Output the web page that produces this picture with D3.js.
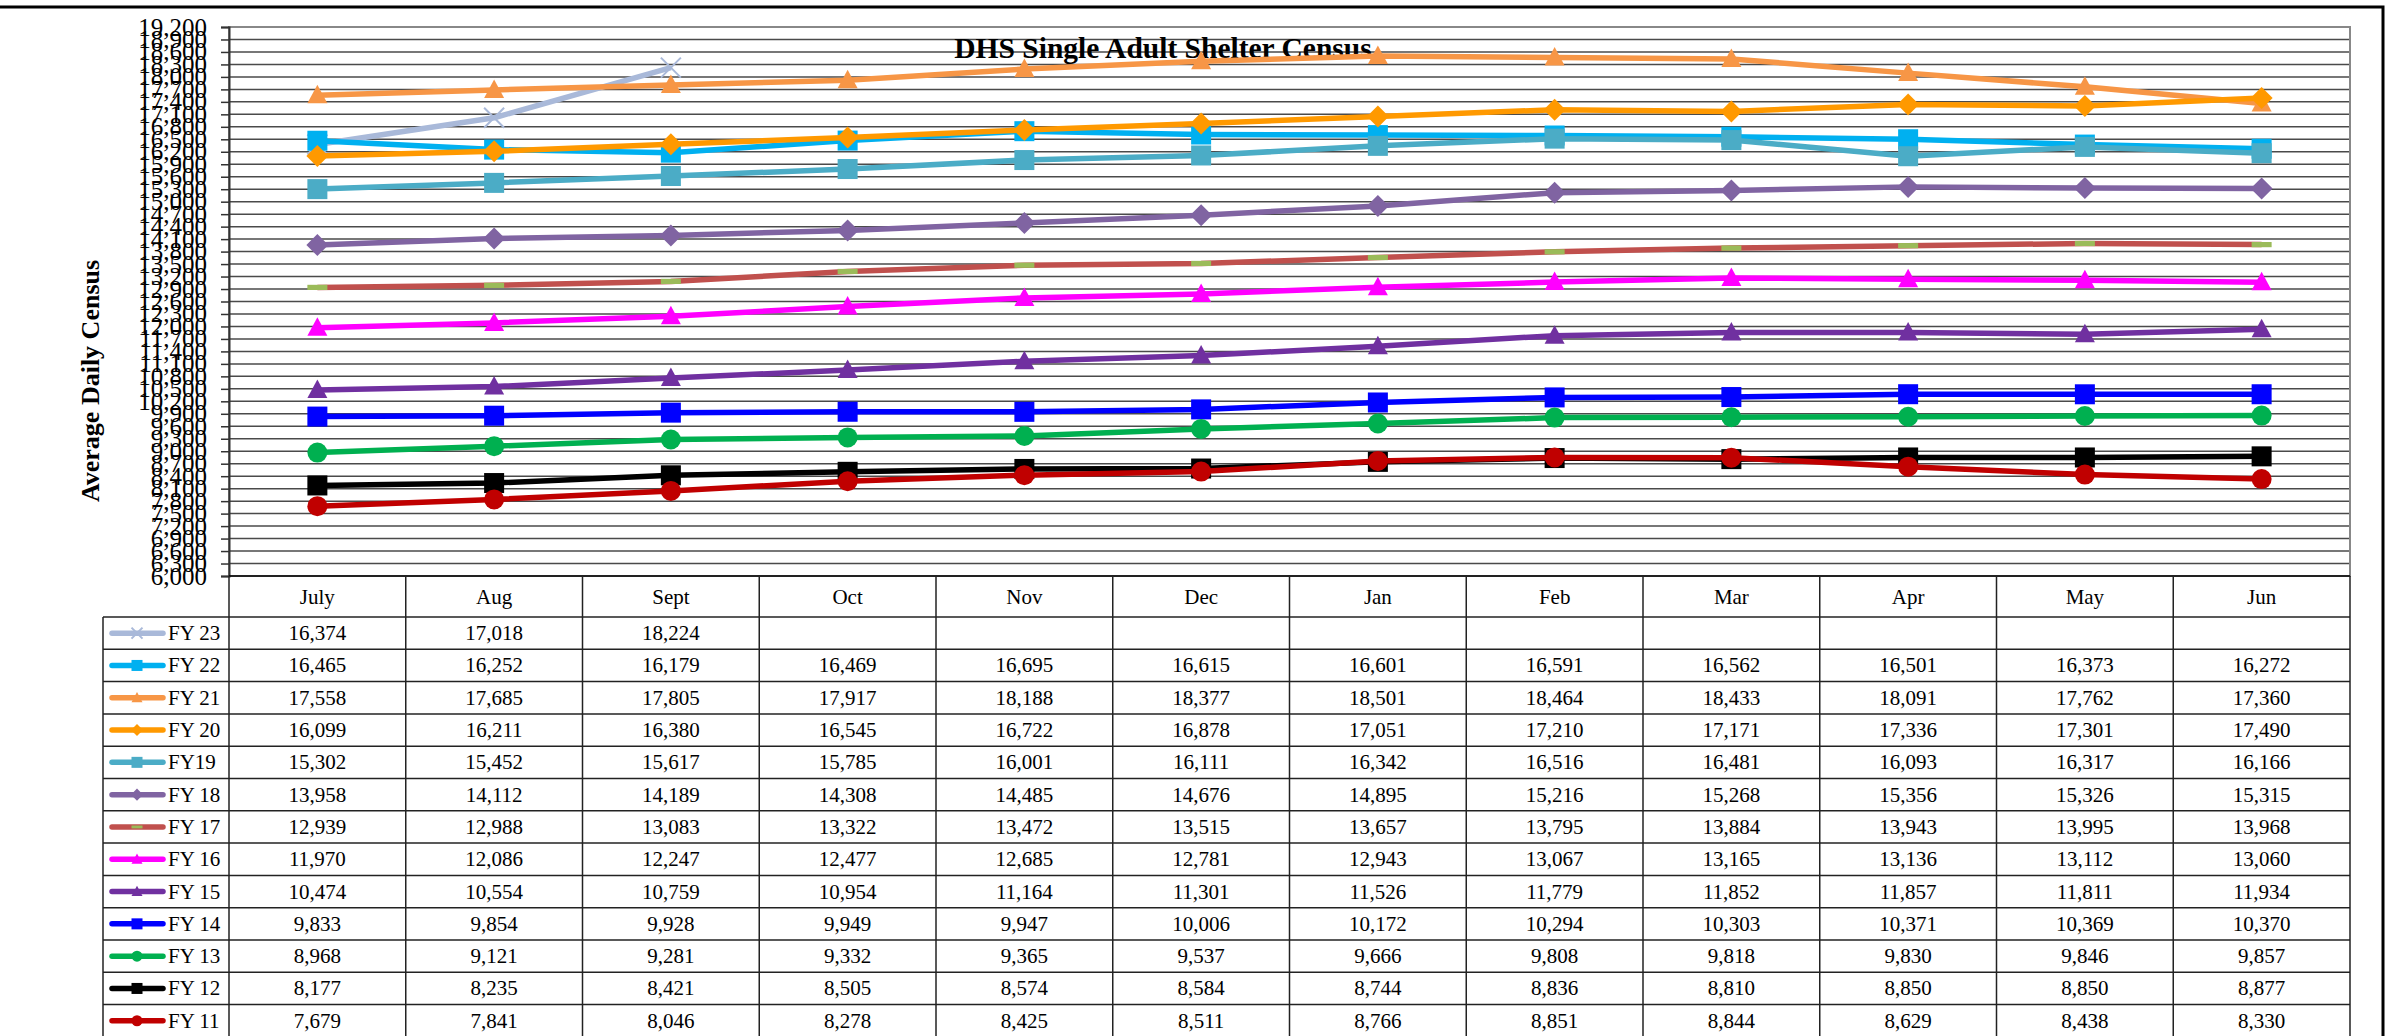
<!DOCTYPE html>
<html>
<head>
<meta charset="utf-8">
<script src="https://cdn.jsdelivr.net/npm/d3@7"></script>
<style>
  body { margin: 0; background: #fff; }
  text { font-family: "Liberation Serif", "Times New Roman", serif; }
</style>
</head>
<body>
<svg id="chart" width="2401" height="1036"></svg>
<script>
const months = ["July", "Aug", "Sept", "Oct", "Nov", "Dec", "Jan", "Feb", "Mar", "Apr", "May", "Jun"];
const seriesNames = ["FY 23", "FY 22", "FY 21", "FY 20", "FY19", "FY 18", "FY 17", "FY 16", "FY 15", "FY 14", "FY 13", "FY 12", "FY 11"];

const fy23 = [16374, 17018, 18224];
const fy22 = [16465, 16252, 16179, 16469, 16695, 16615, 16601, 16591, 16562, 16501, 16373, 16272];
const fy21 = [17558, 17685, 17805, 17917, 18188, 18377, 18501, 18464, 18433, 18091, 17762, 17360];
const fy20 = [16099, 16211, 16380, 16545, 16722, 16878, 17051, 17210, 17171, 17336, 17301, 17490];
const fy19 = [15302, 15452, 15617, 15785, 16001, 16111, 16342, 16516, 16481, 16093, 16317, 16166];
const fy18 = [13958, 14112, 14189, 14308, 14485, 14676, 14895, 15216, 15268, 15356, 15326, 15315];
const fy17 = [12939, 12988, 13083, 13322, 13472, 13515, 13657, 13795, 13884, 13943, 13995, 13968];
const fy16 = [11970, 12086, 12247, 12477, 12685, 12781, 12943, 13067, 13165, 13136, 13112, 13060];
const fy15 = [10474, 10554, 10759, 10954, 11164, 11301, 11526, 11779, 11852, 11857, 11811, 11934];
const fy14 = [9833, 9854, 9928, 9949, 9947, 10006, 10172, 10294, 10303, 10371, 10369, 10370];
const fy13 = [8968, 9121, 9281, 9332, 9365, 9537, 9666, 9808, 9818, 9830, 9846, 9857];
const fy12 = [8177, 8235, 8421, 8505, 8574, 8584, 8744, 8836, 8810, 8850, 8850, 8877];
const fy11 = [7679, 7841, 8046, 8278, 8425, 8511, 8766, 8851, 8844, 8629, 8438, 8330];

const yTicks = d3.range(6000, 19201, 300);

// styles (same order as seriesNames)
const lineColors = ["#A9B9D9", "#00B0F0", "#F79646", "#FF9900", "#4BACC6", "#8064A2", "#C0504D", "#FF00FF", "#7030A0", "#0000FF", "#00B050", "#000000", "#C00000"];
const markerTypes = ["x", "square", "triangle", "diamond", "square", "diamond", "dash", "triangle", "triangle", "square", "circle", "square", "circle"];

const allValues = [fy23, fy22, fy21, fy20, fy19, fy18, fy17, fy16, fy15, fy14, fy13, fy12, fy11];
const series = seriesNames.map((n, i) => ({ name: n, values: allValues[i], color: lineColors[i], marker: markerTypes[i] }));

const svg = d3.select("#chart");

const plotL = 229, plotR = 2350, plotT = 27, plotB = 576;
const x = d3.scaleBand().domain(months).range([plotL, plotR]);
const y = d3.scaleLinear().domain([6000, 19200]).range([plotB, plotT]);
const cx = m => x(m) + x.bandwidth() / 2;

// outer frame
svg.append("rect")
  .attr("x", -10).attr("y", 7)
  .attr("width", 2393).attr("height", 1060)
  .attr("fill", "none").attr("stroke", "#000").attr("stroke-width", 3);

// gridlines
svg.append("g")
  .selectAll("line")
  .data(yTicks)
  .enter().append("line")
  .attr("x1", plotL).attr("x2", plotR)
  .attr("y1", d => y(d)).attr("y2", d => y(d))
  .attr("stroke", "#4a4a4a").attr("stroke-width", 1.5);

// plot border
svg.append("rect")
  .attr("x", plotL).attr("y", plotT)
  .attr("width", plotR - plotL).attr("height", plotB - plotT)
  .attr("fill", "none").attr("stroke", "#888").attr("stroke-width", 2);

// y axis
const yAxis = svg.append("g")
  .attr("transform", `translate(${plotL},0)`)
  .call(d3.axisLeft(y).tickValues(yTicks).tickSize(8).tickPadding(14).tickFormat(d3.format(",")));
yAxis.select(".domain").attr("stroke", "#333").attr("stroke-width", 2);
yAxis.selectAll(".tick line").attr("stroke", "#333").attr("stroke-width", 1.5);
yAxis.selectAll(".tick text")
  .attr("font-size", 25)
  .attr("fill", "#000")
  .style("font-family", "'Liberation Serif', serif");

// y axis title
svg.append("text")
  .attr("transform", "translate(99,381) rotate(-90)")
  .attr("text-anchor", "middle")
  .attr("font-size", 26)
  .attr("font-weight", "bold")
  .text("Average Daily Census");

// title
svg.append("text")
  .attr("x", 1163).attr("y", 58)
  .attr("text-anchor", "middle")
  .attr("font-size", 29.5)
  .attr("font-weight", "bold")
  .text("DHS Single Adult Shelter Census");

function drawMarker(g, type, color, s) {
  const h = s / 2;
  if (type === "square") {
    g.append("rect").attr("x", -h).attr("y", -h).attr("width", s).attr("height", s).attr("fill", color);
  } else if (type === "circle") {
    g.append("circle").attr("r", h).attr("fill", color);
  } else if (type === "triangle") {
    g.append("path").attr("d", `M0,${-h * 1.05} L${h},${h * 0.8} L${-h},${h * 0.8} Z`).attr("fill", color);
  } else if (type === "diamond") {
    g.append("path").attr("d", `M0,${-h * 1.1} L${h * 1.1},0 L0,${h * 1.1} L${-h * 1.1},0 Z`).attr("fill", color);
  } else if (type === "dash") {
    g.append("rect").attr("x", -h).attr("y", -s * 0.13).attr("width", s).attr("height", s * 0.26).attr("fill", "#9BBB59");
  } else if (type === "x") {
    g.append("path").attr("d", `M${-h},${-h} L${h},${h} M${-h},${h} L${h},${-h}`)
      .attr("stroke", color).attr("stroke-width", 2).attr("fill", "none");
  }
}

// lines + markers
const line = d3.line()
  .x((d, i) => cx(months[i]))
  .y(d => y(d));

series.forEach(s => {
  const g = svg.append("g");
  g.append("path")
    .attr("d", line(s.values))
    .attr("fill", "none")
    .attr("stroke", s.color)
    .attr("stroke-width", 5.5)
    .attr("stroke-linejoin", "round");
  s.values.forEach((v, i) => {
    const mg = g.append("g").attr("transform", `translate(${cx(months[i])},${y(v)})`);
    drawMarker(mg, s.marker, s.color, 20);
  });
});

// data table
const headT = plotB, headB = 617, rowH = 32.3;
const legL = 103;
const tbl = svg.append("g");

// header labels
tbl.selectAll("text.cat")
  .data(months)
  .enter().append("text")
  .attr("class", "cat")
  .attr("x", d => cx(d))
  .attr("y", (headT + headB) / 2 + 7)
  .attr("text-anchor", "middle")
  .attr("font-size", 21)
  .text(d => d);

const tableBottom = headB + rowH * series.length;

// horizontal rules
tbl.append("line")
  .attr("x1", plotL).attr("x2", plotR)
  .attr("y1", headT).attr("y2", headT)
  .attr("stroke", "#000").attr("stroke-width", 1.5);
d3.range(series.length + 1).forEach(r => {
  tbl.append("line")
    .attr("x1", legL).attr("x2", plotR)
    .attr("y1", headB + r * rowH).attr("y2", headB + r * rowH)
    .attr("stroke", "#222").attr("stroke-width", 1.5);
});

// vertical rules
const colEdges = months.map(m => x(m)).concat([plotR]);
colEdges.forEach(cxv => {
  tbl.append("line")
    .attr("x1", cxv).attr("x2", cxv)
    .attr("y1", headT).attr("y2", tableBottom)
    .attr("stroke", "#222").attr("stroke-width", 1.5);
});
tbl.append("line")
  .attr("x1", legL).attr("x2", legL)
  .attr("y1", headB).attr("y2", tableBottom)
  .attr("stroke", "#222").attr("stroke-width", 1.5);

// rows
const fmt = d3.format(",");
series.forEach((s, r) => {
  const midY = headB + r * rowH + rowH / 2;
  const lg = tbl.append("g");
  lg.append("line")
    .attr("x1", 112).attr("x2", 163)
    .attr("y1", midY).attr("y2", midY)
    .attr("stroke", s.color).attr("stroke-width", 5.5)
    .attr("stroke-linecap", "round");
  const mg = lg.append("g").attr("transform", `translate(137,${midY})`);
  drawMarker(mg, s.marker, s.color, 11);
  lg.append("text")
    .attr("x", 168).attr("y", midY + 7)
    .attr("font-size", 21)
    .text(s.name);

  tbl.append("g")
    .selectAll("text")
    .data(s.values)
    .enter().append("text")
    .attr("x", (d, i) => cx(months[i]))
    .attr("y", midY + 7)
    .attr("text-anchor", "middle")
    .attr("font-size", 21)
    .text(d => fmt(d));
});
</script>
</body>
</html>
